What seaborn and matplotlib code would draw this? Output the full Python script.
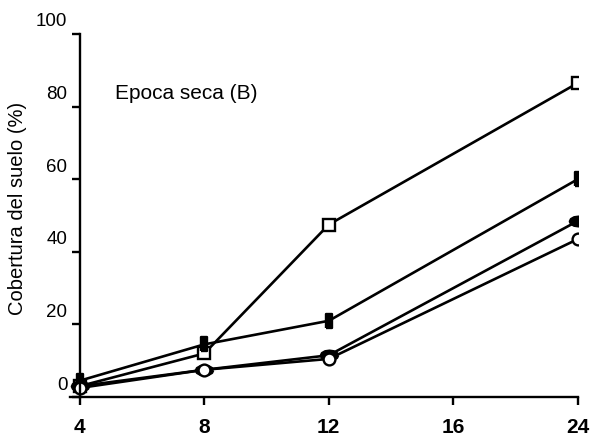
import pandas as pd
import seaborn as sns
import matplotlib
matplotlib.use('Agg')
import matplotlib.pyplot as plt
import matplotlib.transforms as mtransforms


# weeks after planting (16 has no measurement, but keeps its place on the axis)
weeks = ['4', '8', '12', '16', '24']
weeks_measured = ['4', '8', '12', '24']

cover_square = [3, 12, 47.5, 86.5]
cover_bar = [4.5, 14.5, 21, 60]
cover_ellipse = [3, 7.5, 11.5, 48.5]
cover_circle = [2.5, 7.5, 10.5, 43.5]

yticks = [0, 20, 40, 60, 80, 100]

sns.set_theme(style='ticks')
plt.rcParams['font.family'] = ['Liberation Sans', 'DejaVu Sans']
plt.rcParams['text.color'] = 'black'
plt.rcParams['axes.labelcolor'] = 'black'

# marker shapes: a tall bar and a flat ellipse, as in the printed figure
bar_marker = [(-0.45, -1), (0.45, -1), (0.45, 1), (-0.45, 1), (-0.45, -1)]
ell_marker = [(1.0, 0.0), (0.87, 0.28), (0.5, 0.49), (0.0, 0.56), (-0.5, 0.49),
              (-0.87, 0.28), (-1.0, 0.0), (-0.87, -0.28), (-0.5, -0.49),
              (0.0, -0.56), (0.5, -0.49), (0.87, -0.28), (1.0, 0.0)]

series = [
    (cover_square, 's', 'white', 8.5),
    (cover_bar, bar_marker, 'black', 10.5),
    (cover_ellipse, ell_marker, 'black', 12.5),
    (cover_circle, 'o', 'white', 8.5),
]

fig = plt.figure(figsize=(5.92, 4.37), dpi=100)
ax = fig.add_axes([0.118, 0.0915, 0.858, 0.8307])

for vals, mk, face, size in series:
    df = pd.DataFrame({'semana': pd.Categorical(weeks_measured, categories=weeks),
                       'cobertura': vals})
    sns.lineplot(data=df, x='semana', y='cobertura', ax=ax, color='black',
                 linewidth=1.9, marker=mk, markerfacecolor=face,
                 markeredgecolor='black', markeredgewidth=1.7,
                 markersize=size, sort=False)

ax.set_xlim(-0.08, 4)
ax.set_ylim(0, 100)
ax.set_yticks(yticks)
ax.set_yticklabels([str(v) for v in yticks])
ax.set_xlabel('')
ax.set_ylabel('Cobertura del suelo (%)', fontsize=14.5, color='black')
ax.yaxis.set_label_coords(-0.084, 0.52)

for s in ['top', 'right']:
    ax.spines[s].set_visible(False)
ax.spines['left'].set_position(('data', 0))
ax.spines['left'].set_linewidth(1.7)
ax.spines['bottom'].set_linewidth(1.7)
ax.spines['left'].set_color('black')
ax.spines['bottom'].set_color('black')

ax.tick_params(axis='both', colors='black', length=6, width=1.7)
ax.tick_params(axis='y', labelsize=13.5, pad=3)
ax.tick_params(axis='x', labelsize=15, pad=9)
for lbl in ax.get_xticklabels():
    lbl.set_fontweight('bold')

# the y tick numbers sit a little above their ticks
offset = mtransforms.ScaledTranslation(0, 0.14, fig.dpi_scale_trans)
for lbl in ax.get_yticklabels():
    lbl.set_transform(lbl.get_transform() + offset)

ax.text(0.088, 0.837, 'Epoca seca (B)', transform=ax.transAxes,
        fontsize=15, va='center', ha='left', color='black')

fig.savefig('out.png', dpi=100)
